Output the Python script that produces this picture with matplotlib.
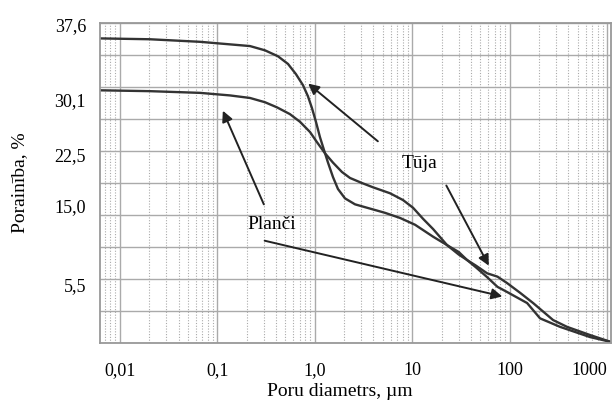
import matplotlib
matplotlib.use("Agg")
import matplotlib.pyplot as plt
from matplotlib.ticker import LogLocator, MultipleLocator, NullFormatter

plt.rcParams['font.family'] = ['Liberation Serif', 'DejaVu Serif']

# pore diameter, um  /  porosity, %
tuja_x = [0.00624, 0.0203, 0.0663, 0.1346, 0.2163, 0.308, 0.419, 0.531, 0.641, 0.757,
          0.851, 0.936, 1.028, 1.130, 1.242, 1.367, 1.538, 1.730, 2.042, 2.588, 3.436,
          5.26, 7.50, 10.69, 16.36, 24.4, 30.0, 36.6, 45.0, 58.6, 75.0, 94.0, 128,
          174, 279, 388, 668, 1099]
tuja_y = [35.8, 35.7, 35.4, 35.1, 34.9, 34.4, 33.7, 32.8, 31.6, 30.3,
          29.0, 27.6, 26.0, 24.2, 22.7, 21.2, 19.5, 18.1, 17.0, 16.3, 15.9,
          15.3, 14.7, 13.9, 12.5, 11.3, 10.7, 9.75, 9.1, 8.2, 7.8, 7.05, 5.9,
          4.7, 2.7, 1.9, 0.94, 0.12]

planci_x = [0.00624, 0.0203, 0.0663, 0.1346, 0.2163, 0.308, 0.409, 0.556, 0.705, 0.893,
            1.054, 1.273, 1.538, 1.901, 2.297, 3.055, 3.963, 5.92, 8.05, 10.19, 12.91,
            16.36, 22.8, 30.0, 36.6, 45.0, 58.6, 75.0, 94.0, 151, 205, 260, 329, 668,
            1099]
planci_y = [29.7, 29.6, 29.4, 29.1, 28.8, 28.3, 27.7, 26.9, 26.0, 24.8,
            23.6, 22.3, 21.2, 20.1, 19.4, 18.8, 18.3, 17.6, 16.8, 15.9, 14.6,
            13.4, 11.5, 10.4, 9.75, 8.9, 7.75, 6.6, 6.0, 4.7, 2.9, 2.4, 1.9, 0.7,
            0.12]

# y tick labels as printed on the original chart, and where they sit
ytick_pos = [6.9, 16.2, 22.1, 28.6, 37.4]
ytick_labels = ['5,5', '15,0', '22,5', '30,1', '37,6']
xtick_pos = [0.01, 0.1, 1, 10, 100, 1000]
xtick_labels = ['0,01', '0,1', '1,0', '10', '100', '1000']

fig = plt.figure(figsize=(6.13, 4.05), dpi=100)
ax = fig.add_axes([0.163, 0.153, 0.834, 0.790])

ax.plot(tuja_x, tuja_y, color='#333333', lw=1.7)
ax.plot(planci_x, planci_y, color='#333333', lw=1.7)

ax.set_xscale('log')
ax.set_xlim(0.00624, 1100)
ax.set_ylim(0, 37.6)

ax.set_xticks(xtick_pos)
ax.set_xticklabels(xtick_labels)
ax.get_xticklabels()[-1].set_ha('right')
ax.xaxis.set_minor_locator(LogLocator(base=10, subs=range(2, 10), numticks=20))
ax.xaxis.set_minor_formatter(NullFormatter())
ax.set_yticks(ytick_pos)
ax.set_yticklabels(ytick_labels)
ax.yaxis.set_minor_locator(MultipleLocator(3.76))
ax.tick_params(which='both', length=0, labelsize=13)
ax.tick_params(axis='x', pad=14)
ax.tick_params(axis='y', pad=10)

ax.xaxis.grid(True, which='major', color='#aaaaaa', lw=1.0)
ax.xaxis.grid(True, which='minor', color='#aaaaaa', lw=0.8, ls=(0, (1, 1.5)))
ax.yaxis.grid(True, which='minor', color='#aaaaaa', lw=1.0)
for s in ax.spines.values():
    s.set_color('#999999')
    s.set_linewidth(1.3)

ax.set_xlabel('Poru diametrs, µm', fontsize=14)
ax.set_ylabel('Porainība, %', fontsize=14)
ax.xaxis.set_label_coords(0.47, -0.125)
ax.yaxis.set_label_coords(-0.14, 0.5)

arrow = dict(arrowstyle='-|>', color='#222222', lw=1.4, mutation_scale=16)
ax.annotate('', xy=(0.813, 30.7), xytext=(4.67, 23.5), arrowprops=arrow)
ax.annotate('', xy=(63, 8.8), xytext=(21.7, 18.8), arrowprops=arrow)
ax.annotate('', xy=(0.111, 27.6), xytext=(0.308, 16.0), arrowprops=arrow)
ax.annotate('', xy=(89.7, 5.4), xytext=(0.287, 12.1), arrowprops=arrow)
ax.text(12.0, 21.1, 'Tūja', fontsize=14, ha='center', va='center')
ax.text(0.364, 13.9, 'Planči', fontsize=14, ha='center', va='center')

fig.savefig('out.png', dpi=100)
